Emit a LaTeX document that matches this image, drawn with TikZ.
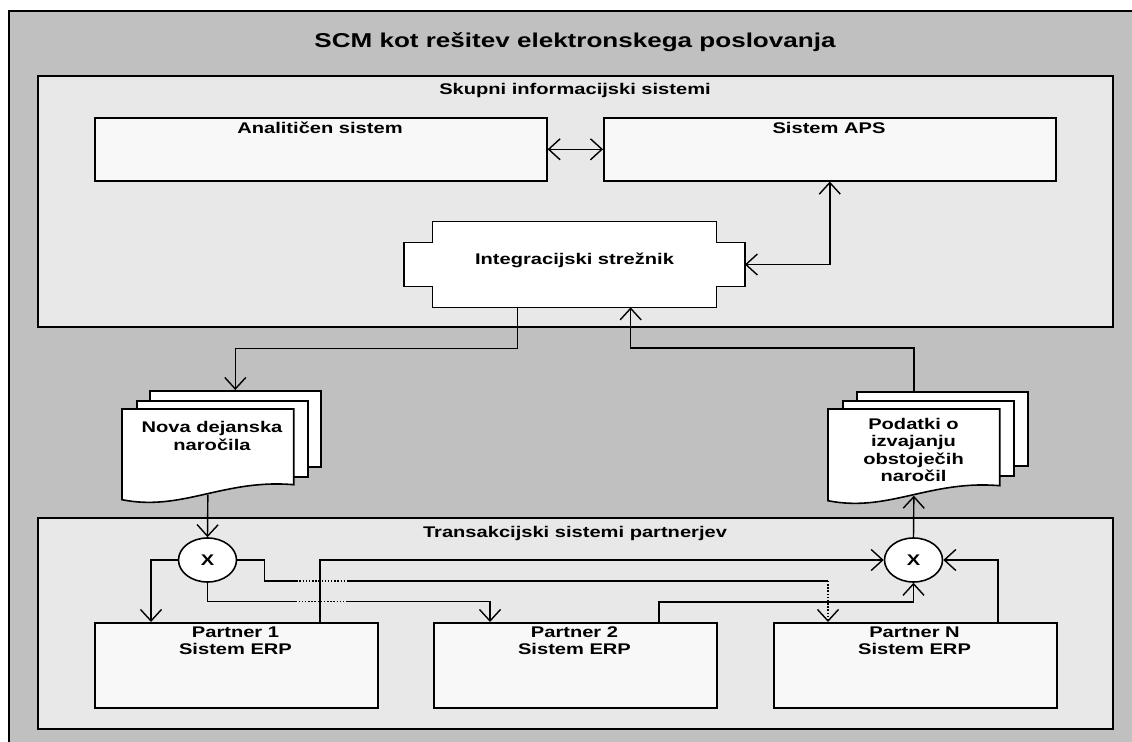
\documentclass[tikz,border=0pt]{standalone}
\usepackage{fontspec}
\setmainfont{Liberation Sans}[FakeStretch=1.3]
\usepackage{xcolor}
\usetikzlibrary{arrows.meta,positioning,calc,shapes.geometric}
\definecolor{scmsiva}{HTML}{C0C0C0}
\definecolor{scmsvetla}{HTML}{E8E8E8}
\definecolor{scmbela}{HTML}{F8F8F8}

% list z valovitim dnom (dokument)
\newcommand\listvalov[1]{%
  \draw[obris,fill=white] (#1.south east) -- (#1.north east) -- (#1.north west)
    -- ($(#1.south west)+(0,15)$)
    .. controls ($(#1.south west)+(60,27)$) and ($(#1.south east)+(-70,-6)$) .. (#1.south east)
    -- cycle;}

\begin{document}
\begin{tikzpicture}[
    x=0.2mm,y=-0.2mm,
    >={Straight Barb[length=2.3mm,width=4.2mm]},
    obris/.style   = {draw=black,line width=0.9pt},
    skupina/.style = {rectangle,obris,fill=scmsvetla,anchor=north west,inner sep=0pt,
                      minimum width=215mm},
    sistem/.style  = {rectangle,obris,fill=scmbela,anchor=north west,inner sep=0pt},
    list/.style    = {rectangle,obris,fill=white,anchor=north west,inner sep=0pt,
                      minimum width=34.2mm},
    prazen/.style  = {rectangle,anchor=north west,inner sep=0pt,minimum width=34.2mm},
    vozel/.style   = {ellipse,obris,fill=white,inner sep=0pt,minimum width=11.6mm,
                      minimum height=8.8mm,font=\fontsize{8.8}{9.8}\selectfont\bfseries},
    napis/.style   = {align=center,inner sep=0pt,font=\fontsize{8.8}{9.8}\selectfont\bfseries},
    pov/.style     = {black,line width=0.8pt},
  ]

  \clip (0,0) rectangle (1132,742);
  \fill[white] (0,0) rectangle (1132,742);
  \draw[obris,fill=scmsiva] (9,11) rectangle (1160,770);

  \node[font=\fontsize{11.4}{13}\selectfont\bfseries,inner sep=0pt] (naslov) at (575,42)
       {SCM kot rešitev elektronskega poslovanja};

  % ── Skupni informacijski sistemi ──────────────────────────────────────────
  \node[skupina,minimum height=50.2mm] (skup) at (37,75) {};
  \node[napis] (skupt) at (575,91) {Skupni informacijski sistemi};

  \node[sistem,minimum width=90.4mm,minimum height=12.6mm] (anal) at (94,117) {};
  \node[sistem,minimum width=90.4mm,minimum height=12.6mm] (aps)  at (603,117) {};
  \node[napis] (analt) at (320,128) {Analitičen sistem};
  \node[napis] (apst)  at (829,128) {Sistem APS};

  \node[inner sep=0pt,minimum width=56.6mm,minimum height=17mm] (streznik)  at (574.5,264.5) {};
  \node[inner sep=0pt,minimum width=68mm,minimum height=8.6mm]  (streznikp) at (574.5,264.5) {};
  \draw[obris,fill=white] (streznikp.north west) -- (streznikp.north west -| streznik.west)
    -- (streznik.north west) -- (streznik.north east) -- (streznikp.north east -| streznik.east)
    -- (streznikp.north east) -- (streznikp.south east) -- (streznikp.south east -| streznik.east)
    -- (streznik.south east) -- (streznik.south west) -- (streznikp.south west -| streznik.west)
    -- (streznikp.south west) -- cycle;
  \node[napis] (streznikt) at (574.5,260) {Integracijski strežnik};

  \draw[pov,<->] (anal.east) -- (aps.west);
  \draw[pov,<->] (aps.south) |- (streznikp.east);

  % ── Dokumenta ─────────────────────────────────────────────────────────────
  \node[list,minimum height=15.2mm] (novaz) at (149,390) {};
  \node[list,minimum height=15.2mm] (novas) at (136,400) {};
  \node[prazen,minimum height=15mm] (nova)  at (122,409) {};
  \listvalov{nova}
  \node[napis] (novat) at (212,436) {Nova dejanska\\naročila};

  \node[list,minimum height=14.8mm] (podz) at (856,391) {};
  \node[list,minimum height=15mm]   (pods) at (842,400) {};
  \node[prazen,minimum height=15.2mm] (poda) at (828,409) {};
  \listvalov{poda}
  \node[napis] (podt) at (913.5,450) {Podatki o\\izvajanju\\obstoječih\\naročil};

  \draw[pov,->] ($(streznik.south west)+(85,0)$) -- ++(0,41) -| (novaz.north);
  \draw[pov,->] (podz.north -| poda.north) -- ++(0,-43) -| ($(streznik.south west)+(198,0)$);

  % ── Transakcijski sistemi partnerjev ──────────────────────────────────────
  \node[skupina,minimum height=42.2mm] (trans) at (37,517) {};
  \node[napis] (transt) at (575,534) {Transakcijski sistemi partnerjev};

  \node[sistem,minimum width=56.6mm,minimum height=17mm] (p1) at (94,622) {};
  \node[sistem,minimum width=56.6mm,minimum height=17mm] (p2) at (433,622) {};
  \node[sistem,minimum width=56.6mm,minimum height=17mm] (pn) at (773,622) {};
  \node[napis] (p1t) at (235.5,641) {Partner 1\\Sistem ERP};
  \node[napis] (p2t) at (574.5,641) {Partner 2\\Sistem ERP};
  \node[napis] (pnt) at (914.5,641) {Partner N\\Sistem ERP};

  \node[vozel] (x1) at (207.5,560) {X};
  \node[vozel] (x2) at (913.5,560) {X};

  \draw[pov,->] ($(nova.south)+(0,10)$) -- (x1.north);
  \draw[pov,->] (x2.north) -- ($(poda.south)+(0,10)$);

  % razdelitev naročil
  \draw[pov,->] (x1.west) -| ($(p1.north west)+(57,0)$);
  \coordinate (pnv) at ($(pn.north west)+(55,0)$);
  \draw[pov] (x1.east) -| ++(27,21) -- ++(32,0) coordinate (c1a);
  \draw[pov,densely dotted] (c1a) -- ++(52,0) coordinate (c1b);
  \draw[pov] (c1b) -- (c1b -| pnv);
  \draw[pov,densely dotted,->] (c1b -| pnv) -- (pnv);
  \draw[pov] (x1.south) |- ++(88,19) coordinate (c2a);
  \draw[pov,densely dotted] (c2a) -- ++(52,0) coordinate (c2b);
  \draw[pov,->] (c2b) -| ($(p2.north west)+(57,0)$);

  % zbiranje podatkov
  \draw[pov,->] ($(p1.north west)+(226,0)$) |- (x2.west);
  \draw[pov,->] ($(p2.north west)+(226,0)$) -- ++(0,-20) -| (x2.south);
  \draw[pov,->] ($(pn.north west)+(225,0)$) |- (x2.east);

\end{tikzpicture}
\end{document}
